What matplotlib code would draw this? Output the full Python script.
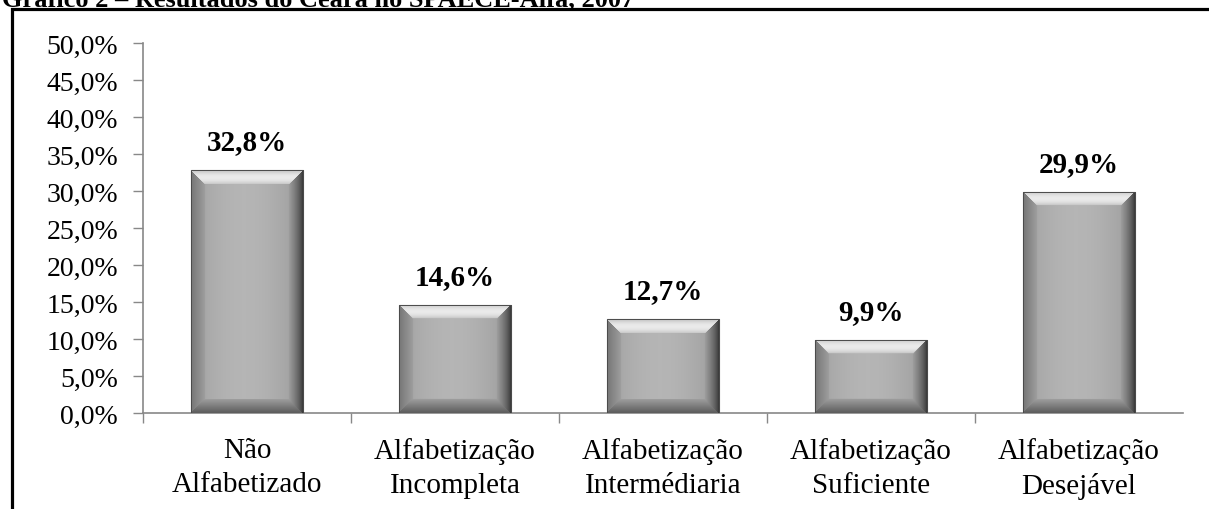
import matplotlib
matplotlib.use("Agg")
import matplotlib.pyplot as plt
import numpy as np
from matplotlib.patches import Rectangle
from matplotlib.ticker import FuncFormatter, FixedLocator

# data
categories = ["Não\nAlfabetizado", "Alfabetização\nIncompleta", "Alfabetização\nIntermédiaria",
              "Alfabetização\nSuficiente", "Alfabetização\nDesejável"]
values = [32.8, 14.6, 12.7, 9.9, 29.9]
labels = ["32,8%", "14,6%", "12,7%", "9,9%", "29,9%"]
yticks = [0, 5, 10, 15, 20, 25, 30, 35, 40, 45, 50]
title = "Gráfico 2 – Resultados do Ceará no SPAECE-Alfa, 2007"

W, H = 1209, 510
plt.rcParams['font.family'] = ['Liberation Serif', 'DejaVu Serif']

fig = plt.figure(figsize=(W / 100, H / 100), dpi=100)
ax = fig.add_axes([143 / W, 1 - 414 / H, (1183 - 143) / W, (414 - 44) / H])

x = np.arange(len(values))
bars = ax.bar(x, values, width=0.535, color="#a9a9a9", edgecolor="#5a5a5a", linewidth=0.8, zorder=2)
ax.set_xlim(-0.5, len(values) - 0.5)
ax.set_ylim(0, 50)


def bevel_img(w, h, b=14.0):
    # shaded bevel like the office "bevel" bar effect
    yy, xx = np.mgrid[0:h, 0:w] + 0.5
    d = np.stack([yy, w - xx, h - yy, xx])  # top, right, bottom, left
    reg = np.argmin(d, axis=0)
    dmin = np.min(d, axis=0)
    t = np.clip(dmin / b, 0, 1)
    u = xx / w
    body = 0.64 + 0.07 * np.sin(np.pi * np.clip((u - 0.05) / 0.85, 0, 1))
    top = 0.66 + 0.26 * np.sin(np.pi * (0.1 + 0.75 * t))
    right = 0.20 + 0.42 * t ** 0.7
    bottom = 0.36 + 0.26 * t
    left = 0.46 + 0.16 * t
    g = np.choose(reg, [top, right, bottom, left])
    g = np.where(dmin < b, g, body)
    return np.dstack([g, g, g])


fig.canvas.draw()
for bar in bars:
    x0, y0 = bar.get_x(), bar.get_y()
    x1, y1 = x0 + bar.get_width(), y0 + bar.get_height()
    p0 = ax.transData.transform((x0, y0))
    p1 = ax.transData.transform((x1, y1))
    wpx = max(int(round(p1[0] - p0[0])), 2)
    hpx = max(int(round(p1[1] - p0[1])), 2)
    im = ax.imshow(bevel_img(wpx, hpx), extent=(x0, x1, y0, y1), aspect="auto",
                   interpolation="bilinear", zorder=3)
    im.set_clip_path(bar)
    ax.add_patch(Rectangle((x0, y0), x1 - x0, y1 - y0, fill=False,
                           edgecolor="#4a4a4a", linewidth=0.7, zorder=4))

for xi, v, lab in zip(x, values, labels):
    ax.annotate(lab, (xi, v), xytext=(0, 15), textcoords="offset points",
                ha="center", va="baseline", fontsize=21, fontweight="bold")

ax.set_yticks(yticks)
ax.yaxis.set_major_formatter(FuncFormatter(lambda v, p: f"{v:.1f}%".replace(".", ",")))
ax.set_xticks(x)
ax.set_xticklabels(categories, fontsize=21, linespacing=1.4)
ax.xaxis.set_minor_locator(FixedLocator(np.arange(-0.5, len(values) - 1, 1.0)))
ax.tick_params(axis="x", which="major", length=0, pad=17)
ax.tick_params(axis="x", which="minor", length=7, color="#888888", width=1)
ax.tick_params(axis="y", length=7, color="#888888", width=1, labelsize=20, pad=11)

for s in ["top", "right"]:
    ax.spines[s].set_visible(False)
for s in ["left", "bottom"]:
    ax.spines[s].set_color("#888888")
    ax.spines[s].set_linewidth(1.2)

# frame of the figure box (cut off at right and bottom)
fig.add_artist(Rectangle((11.5 / W, -0.2), 2.0, 1 - 9.5 / H + 0.2, transform=fig.transFigure,
                         fill=False, edgecolor="black", linewidth=2.3))
fig.text(2 / W, 1 - 6 / H, title, ha="left", va="baseline", fontsize=19, fontweight="bold")

fig.savefig("out.png", dpi=100)
